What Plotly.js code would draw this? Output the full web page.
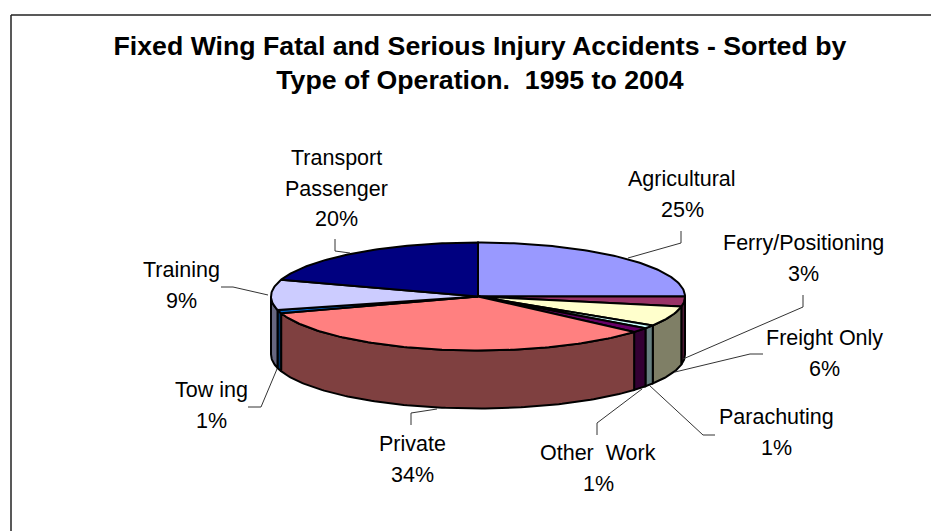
<!DOCTYPE html>
<html><head><meta charset="utf-8">
<script src="https://cdn.plot.ly/plotly-3.0.1.min.js"></script>
<style>html,body{margin:0;padding:0;background:#fff}</style></head>
<body><div id="chart" style="width:931px;height:531px"></div>
<script>
const categories=["Agricultural","Ferry/Positioning","Freight Only","Parachuting","Other  Work","Private","Tow ing","Training","Transport|Passenger"];
const percents=[25,3,6,1,1.4,33.6,1,9,20];
const topColors=["#9999FF","#993366","#FFFFCC","#CCFFFF","#660066","#FF8080","#0066CC","#CCCCFF","#000080"];
const sideColors=["#4C4C7F","#4C1933","#7F7F66","#667F7F","#330033","#7F4040","#003366","#66667F","#000040"];
const labelX=[682,803,824,776,598,412,211,181,336];
const labelY=[179,243,338,417,453,444,390,270,158];
const leaderPaths=[[[628,258],[681,243],[681,231]],[[683,359],[803,307],[803,295]],[[675,372],[750,354],[763,354]],[[649,385],[703,435],[715,435]],[[642,389],[597,423],[597,435]],[[437,409],[411,413],[411,425]],[[277,369],[261,407],[248,407]],[[268,295],[233,287],[221,287]],[[350,253],[335,251],[335,239]]];

const cx=478, cy=296.5, rx=207, ry=54, depth=58, lineStep=30.5;
const pt=(deg)=>{const a=deg*Math.PI/180;return [cx+rx*Math.sin(a),cy-ry*Math.cos(a)];};
const traces=[];
function poly(xs,ys,fill,w){traces.push({type:'scatter',mode:'lines',x:xs,y:ys,fill:'toself',fillcolor:fill,line:{color:'#000',width:w},hoverinfo:'skip',showlegend:false});}
const starts=[];let acc=0;percents.forEach(p=>{starts.push(acc*3.6);acc+=p;});
percents.forEach((p,i)=>{
  const a0=Math.max(starts[i],90), a1=Math.min(starts[i]+p*3.6,270);
  if(a1<=a0) return;
  const xs=[],ys=[];const n=Math.ceil(a1-a0);
  for(let k=0;k<=n;k++){const q=pt(a0+(a1-a0)*k/n);xs.push(q[0]);ys.push(q[1]);}
  for(let k=n;k>=0;k--){const q=pt(a0+(a1-a0)*k/n);xs.push(q[0]);ys.push(q[1]+depth);}
  xs.push(xs[0]);ys.push(ys[0]);
  poly(xs,ys,sideColors[i],2);
});
percents.forEach((p,i)=>{
  const a0=starts[i],a1=a0+p*3.6;const xs=[cx],ys=[cy];
  const n=Math.ceil(a1-a0);
  for(let k=0;k<=n;k++){const q=pt(a0+(a1-a0)*k/n);xs.push(q[0]);ys.push(q[1]);}
  xs.push(cx);ys.push(cy);
  poly(xs,ys,topColors[i],2);
});
leaderPaths.forEach(l=>traces.push({type:'scatter',mode:'lines',x:l.map(q=>q[0]),y:l.map(q=>q[1]),line:{color:'#333',width:1},hoverinfo:'skip',showlegend:false}));
const fam='"Liberation Sans",Arial,sans-serif';
const annotations=[];
categories.forEach((c,i)=>{
  const lines=c.split('|').concat([Math.round(percents[i])+'%']);
  lines.forEach((t,k)=>annotations.push({xref:'x',yref:'y',x:labelX[i],y:labelY[i]+k*lineStep,text:t,showarrow:false,font:{family:fam,size:21.5,color:'#000'},xanchor:'center',yanchor:'middle'}));
});
const layout={width:931,height:531,margin:{l:0,r:0,t:0,b:0},paper_bgcolor:'#fff',plot_bgcolor:'#fff',showlegend:false,
 xaxis:{range:[0,931],visible:false,fixedrange:true},yaxis:{range:[531,0],visible:false,fixedrange:true},
 title:{text:'<b>Fixed Wing Fatal and Serious Injury Accidents - Sorted by<br>Type of Operation.  1995 to 2004</b>',font:{family:fam,size:26.7,color:'#000'},x:0.5155,xanchor:'center',y:0.897,yanchor:'middle'},
 shapes:[{type:'line',xref:'x',yref:'y',x0:11,x1:931,y0:15,y1:15,line:{color:'#222',width:1.5}},{type:'line',xref:'x',yref:'y',x0:11,x1:11,y0:15,y1:531,line:{color:'#222',width:1.5}}],
 annotations:annotations};
Plotly.newPlot('chart',traces,layout,{displayModeBar:false,staticPlot:true});
</script></body></html>
